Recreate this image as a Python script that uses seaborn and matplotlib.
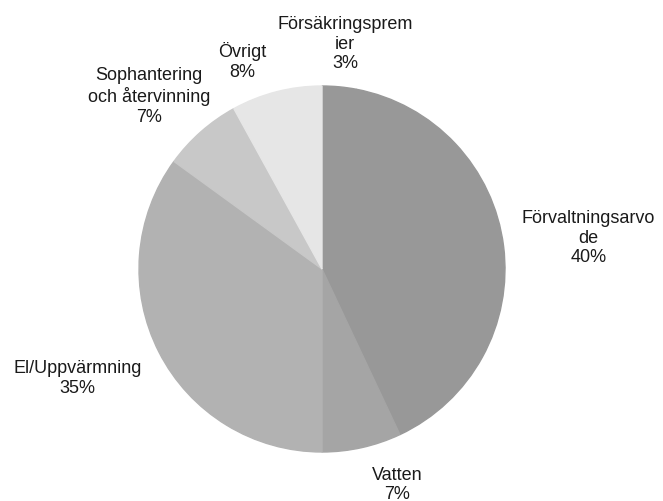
import matplotlib
matplotlib.use("Agg")
import matplotlib.pyplot as plt
import seaborn as sns
import numpy as np

# --- data ---
categories = ["Försäkringspremier", "Förvaltningsarvode", "Vatten",
              "El/Uppvärmning", "Sophantering och återvinning", "Övrigt"]
shares = [3, 40, 7, 35, 7, 8]
# label text as it is wrapped in the chart
label_texts = ["Försäkringsprem\nier\n3%", "Förvaltningsarvo\nde\n40%", "Vatten\n7%",
               "El/Uppvärmning\n35%", "Sophantering\noch återvinning\n7%", "Övrigt\n8%"]

# --- style ---
sns.set_theme(style="white")
plt.rcParams['font.family'] = ['Liberation Sans', 'DejaVu Sans']

colors = ["#989898", "#989898", "#a5a5a5", "#b2b2b2", "#c8c8c8", "#e6e6e6"]

# label placement (radial distance, angle offset in degrees) per slice
label_dist = [1.24, 1.465, 1.245, 1.46, 1.34, 1.22]
label_shift = [-0.4, -0.4, 6.7, -3.1, 3.5, 6.4]

fig = plt.figure(figsize=(6.63, 5.02), dpi=100)
ax = fig.add_axes([0, 0, 1, 1])

wedges, _ = ax.pie(shares, colors=colors, startangle=90, counterclock=False)

# edge in the fill colour so no seams show between slices
for w, c in zip(wedges, colors):
    w.set_edgecolor(c)
    w.set_linewidth(1.0)

for w, txt, d, s in zip(wedges, label_texts, label_dist, label_shift):
    mid = np.deg2rad((w.theta1 + w.theta2) / 2 + s)
    ax.text(d * np.cos(mid), d * np.sin(mid), txt, ha='center', va='center',
            fontsize=13, color='#1a1a1a', linespacing=1.2)

# radius 1 -> 183 px, centre at (322, 270) px from top-left
r = 183.0
ax.set_xlim(-322 / r, (663 - 322) / r)
ax.set_ylim(-(502 - 270) / r, 270 / r)
ax.set_aspect('auto')
ax.axis('off')

fig.savefig("out.png", dpi=100)
